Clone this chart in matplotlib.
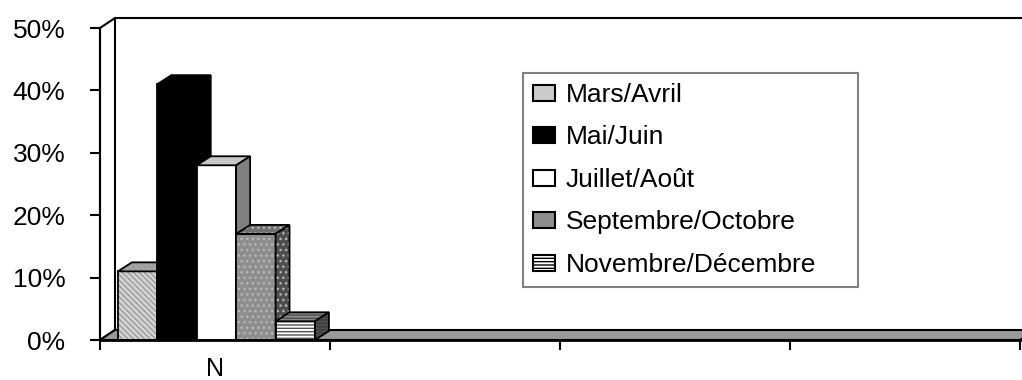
import matplotlib
matplotlib.use("Agg")
import matplotlib.pyplot as plt
from matplotlib.patches import Polygon, Patch

plt.rcParams['font.family'] = ['Liberation Sans', 'DejaVu Sans']
plt.rcParams['hatch.linewidth'] = 1.0

categories = ["N", "", "", ""]
saisons = ["Mars/Avril", "Mai/Juin", "Juillet/Août", "Septembre/Octobre", "Novembre/Décembre"]
mars_avril = [11, 0, 0, 0]
mai_juin = [41, 0, 0, 0]
juillet_aout = [28, 0, 0, 0]
sept_oct = [17, 0, 0, 0]
nov_dec = [3, 0, 0, 0]
series = [mars_avril, mai_juin, juillet_aout, sept_oct, nov_dec]
yticks = [0, 10, 20, 30, 40, 50]

# front, top, side colours + hatch
styles = [
    dict(front='#d4d4d4', top='#a8a8a8', side='#8a8a8a', hatch='\\\\\\\\\\\\', hc='#9a9a9a', leg='#cccccc', lh=None),
    dict(front='black', top='black', side='black', hatch=None, hc=None, leg='black', lh=None),
    dict(front='white', top='#c8c8c8', side='#808080', hatch=None, hc=None, leg='white', lh=None),
    dict(front='#8e8e8e', top='#707070', side='#4e4e4e', hatch='...', hc='#b8b8b8', leg='#8e8e8e', lh=None),
    dict(front='white', top='#8a8a8a', side='#404040', hatch='-----', hc='#505050', leg='white', lh='-----'),
]

fig = plt.figure(figsize=(10.22, 3.8), dpi=100)
ax = fig.add_axes([100 / 1022, 40 / 380, 920 / 1022, 312 / 380])
ax.set_xlim(0, 4)
ax.set_ylim(0, 50)

px = 4 / 920      # data units per pixel, x
py = 50 / 312     # data units per pixel, y
DX, DY = 15 * px, 10 * py
BDX, BDY = 14 * px, 9 * py

# walls and floor
ax.add_patch(Polygon([(0, 0), (0, 50), (DX, 50 + DY), (DX, DY)], closed=True,
                     facecolor='white', edgecolor='black', lw=1.5, clip_on=False, zorder=1))
ax.plot([DX, 4 + DX], [50 + DY, 50 + DY], color='black', lw=1.5, clip_on=False, zorder=1)
ax.add_patch(Polygon([(0, 0), (4, 0), (4 + DX, DY), (DX, DY)], closed=True,
                     facecolor='#9a9a9a', edgecolor='black', lw=1.5, clip_on=False, zorder=1))


def face(pts, fc, hatch, hc):
    if hatch:
        ax.add_patch(Polygon(pts, closed=True, facecolor=fc, edgecolor=hc, hatch=hatch,
                             lw=0, clip_on=False, zorder=2))
        ax.add_patch(Polygon(pts, closed=True, facecolor='none', edgecolor='black',
                             lw=1.3, clip_on=False, zorder=2))
    else:
        ax.add_patch(Polygon(pts, closed=True, facecolor=fc, edgecolor='black',
                             lw=1.3, clip_on=False, zorder=2))


w = 0.1713
start = 0.078
for c in range(len(categories)):
    for i, (vals, st) in enumerate(zip(series, styles)):
        v = vals[c]
        if v <= 0:
            continue
        x0 = c + start + i * w
        x1 = x0 + w
        face([(x0, 0), (x1, 0), (x1, v), (x0, v)], st['front'], st['hatch'], st['hc'])
        face([(x0, v), (x1, v), (x1 + BDX, v + BDY), (x0 + BDX, v + BDY)], st['top'], st['hatch'], st['hc'])
        face([(x1, 0), (x1 + BDX, BDY), (x1 + BDX, v + BDY), (x1, v)], st['side'], st['hatch'], st['hc'])

for s in ['top', 'right']:
    ax.spines[s].set_visible(False)
ax.spines['left'].set_linewidth(1.5)
ax.spines['bottom'].set_linewidth(2)
ax.spines['bottom'].set_zorder(3)

ax.set_yticks(yticks)
ax.set_yticklabels([f"{t}%" for t in yticks], fontsize=19)
ax.tick_params(axis='y', length=7, width=1.5, pad=18)
ax.set_xticks(range(len(categories) + 1))
ax.set_xticklabels([])
ax.set_xticks([c + 0.5 for c in range(len(categories))], minor=True)
ax.set_xticklabels(categories, minor=True, fontsize=18)
ax.tick_params(axis='x', which='major', length=7, width=1.5)
ax.tick_params(axis='x', which='minor', length=0, pad=12)

handles = [Patch(facecolor=st['leg'], edgecolor='black', lw=1.5, hatch=st['lh']) for st in styles]
leg = ax.legend(handles, saisons, loc='upper left',
                bbox_to_anchor=(523 / 1022, 102 / 380, 335 / 1022, 205 / 380), mode='expand',
                bbox_transform=fig.transFigure, fontsize=19, fancybox=False, framealpha=1,
                edgecolor='#808080', borderpad=0.38, handlelength=0.85, handleheight=0.55,
                handletextpad=0.4, labelspacing=0.7, borderaxespad=0)
leg.get_frame().set_linewidth(1.5)

fig.savefig("out.png", dpi=100)
